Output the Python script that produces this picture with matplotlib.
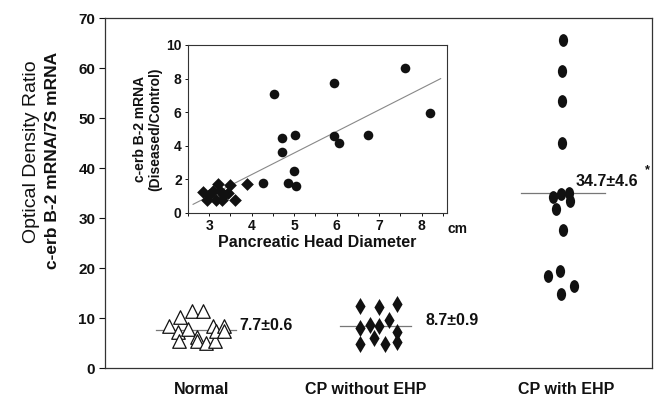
import numpy as np
import matplotlib
matplotlib.use("Agg")
import matplotlib.pyplot as plt
from matplotlib.path import Path
from matplotlib.transforms import Affine2D

plt.rcParams['font.family'] = ['Liberation Sans', 'DejaVu Sans']

# ---------------- main panel data ----------------
groups = ["Normal", "CP without EHP", "CP with EHP"]
group_pos = [1, 2, 3]
label_pos = [1.03, 1.93, 3.03]

normal_dx = [-0.148, -0.088, -0.022, 0.038, -0.099, -0.044, -0.093, 0.005, 0.005,
             0.055, 0.104, 0.093, 0.110, 0.153, 0.153]
normal_y = [8.4, 10.2, 11.4, 11.4, 7.2, 7.8, 5.4, 6.2, 5.4, 5.0, 5.4, 8.4, 7.4, 8.4, 7.4]

cpno_dx = [-0.099, 0.0, 0.099, -0.099, -0.044, 0.0, 0.055, 0.099, -0.104, -0.027, 0.033, 0.104]
cpno_y = [12.4, 12.2, 12.8, 8.0, 8.6, 8.4, 9.6, 7.2, 4.8, 6.0, 4.8, 5.2]

cpwith_dx = [0.011, 0.005, 0.005, 0.005, 0.0, 0.044, 0.049, -0.044, -0.027, 0.011,
             -0.071, -0.005, 0.071, 0.0]
cpwith_y = [65.7, 59.5, 53.5, 45.1, 34.9, 35.1, 33.5, 34.3, 31.9, 27.7, 18.4, 19.4, 16.4, 14.8]

stat_text = ["7.7\u00b10.6", "8.7\u00b10.9", "34.7\u00b14.6"]
main_yticks = [0, 10, 20, 30, 40, 50, 60, 70]

# ---------------- inset data ----------------
inset_d_x = [2.85, 2.95, 3.0, 3.1, 3.15, 3.2, 3.25, 3.3, 3.35, 3.45, 3.5, 3.6, 3.9]
inset_d_y = [1.25, 0.8, 1.1, 1.3, 0.8, 1.75, 1.3, 0.8, 1.05, 1.2, 1.65, 0.8, 1.75]
inset_c_x = [4.27, 4.53, 4.72, 4.72, 5.03, 5.0, 4.86, 5.05, 5.95, 5.93, 6.05, 6.73, 7.62, 8.19]
inset_c_y = [1.79, 7.08, 4.46, 3.63, 4.64, 2.5, 1.79, 1.61, 7.74, 4.58, 4.17, 4.64, 8.63, 5.95]
fit_x = [2.62, 8.45]
inset_xticks = [3, 4, 5, 6, 7, 8]
inset_yticks = [0, 2, 4, 6, 8, 10]

# ---------------- figure ----------------
fig = plt.figure(figsize=(6.56, 4.0), dpi=100)
ax = fig.add_axes([105/656, 1-368/400, (652-105)/656, (368-18)/400])

ink = "#111111"
ell = Path.unit_circle().transformed(Affine2D().scale(0.72, 1.0))

ax.scatter(np.add(group_pos[0], normal_dx), normal_y, marker='^', s=95,
           facecolors='white', edgecolors=ink, linewidths=0.9, zorder=3)
ax.scatter(np.add(group_pos[1], cpno_dx), cpno_y, marker='d', s=75,
           color=ink, linewidths=0, zorder=3)
ax.scatter(np.add(group_pos[2], cpwith_dx), cpwith_y, marker=ell, s=85,
           color=ink, linewidths=0, zorder=3)

means = [np.mean(normal_y), np.mean(cpno_y), np.mean(cpwith_y)]
half = [(-0.22, 0.22), (-0.21, 0.18), (-0.22, 0.24)]
for g, m, (a, b) in zip(group_pos, means, half):
    ax.plot([g + a, g + b], [m, m], color="#777777", lw=0.9, zorder=2)

text_dx = [0.235, 0.26, 0.08]
text_dy = [0.8, 1.1, 2.2]
for g, m, t, dx, dy in zip(group_pos, means, stat_text, text_dx, text_dy):
    ax.text(g + dx, m + dy, t, fontsize=11.5, fontweight='bold', va='center', ha='left', color=ink)
ax.text(3.475, 39.5, "*", fontsize=9, fontweight='bold', ha='center', va='center', color=ink)

ax.set_xlim(0.5, 3.5)
ax.set_ylim(0, 70)
ax.set_yticks(main_yticks)
ax.set_xticks([])
for lp, gname in zip(label_pos, groups):
    ax.text(lp, -4.2, gname, fontsize=11.5, fontweight='bold', ha='center', va='center',
            color=ink, transform=ax.transData)
ax.tick_params(axis='y', direction='out', length=4, width=0.8, labelsize=11, pad=3, colors=ink)
for lbl in ax.get_yticklabels():
    lbl.set_fontweight('bold')
for s in ax.spines.values():
    s.set_linewidth(0.9)
    s.set_color("#333333")

fig.text(32/656, 1-152/400, "Optical Density Ratio", rotation=90, fontsize=14,
         ha='center', va='center', color=ink)
fig.text(53/656, 1-160/400, "c-erb B-2 mRNA/7S mRNA", rotation=90, fontsize=12.5,
         fontweight='bold', ha='center', va='center', color=ink)

# ---------------- inset ----------------
ia = fig.add_axes([188/656, 1-213/400, (447-188)/656, (213-45)/400])
ia.scatter(inset_d_x, inset_d_y, marker='D', s=42, color=ink, linewidths=0, zorder=3)
ia.scatter(inset_c_x, inset_c_y, marker='o', s=48, color=ink, linewidths=0, zorder=3)
allx = np.concatenate([inset_d_x, inset_c_x])
ally = np.concatenate([inset_d_y, inset_c_y])
slope, icpt = np.polyfit(allx, ally, 1)
fx = np.array(fit_x)
ia.plot(fx, slope * fx + icpt, color="#888888", lw=0.8, zorder=2)

ia.set_xlim(2.5, 8.6)
ia.set_ylim(0, 10)
ia.set_xticks(inset_xticks)
ia.set_xticks(np.arange(2.5, 8.6, 0.5), minor=True)
ia.set_yticks(inset_yticks)
ia.tick_params(axis='both', which='both', direction='out', length=2.5, width=0.7,
               labelsize=10, pad=2, colors=ink)
ia.tick_params(axis='x', which='minor', length=2.5)
for lbl in ia.get_xticklabels() + ia.get_yticklabels():
    lbl.set_fontweight('bold')
for s in ia.spines.values():
    s.set_linewidth(0.8)
    s.set_color("#333333")
ia.set_xlabel("Pancreatic Head Diameter", fontsize=11.5, fontweight='bold', color=ink, labelpad=1)
ia.set_ylabel("c-erb B-2 mRNA\n(Diseased/Control)", fontsize=10, fontweight='bold',
              color=ink, labelpad=3, linespacing=1.1)
ia.text(8.62, -0.95, "cm", fontsize=10, fontweight='bold', ha='left', va='center', color=ink,
        clip_on=False)

fig.savefig("out.png", dpi=100)
